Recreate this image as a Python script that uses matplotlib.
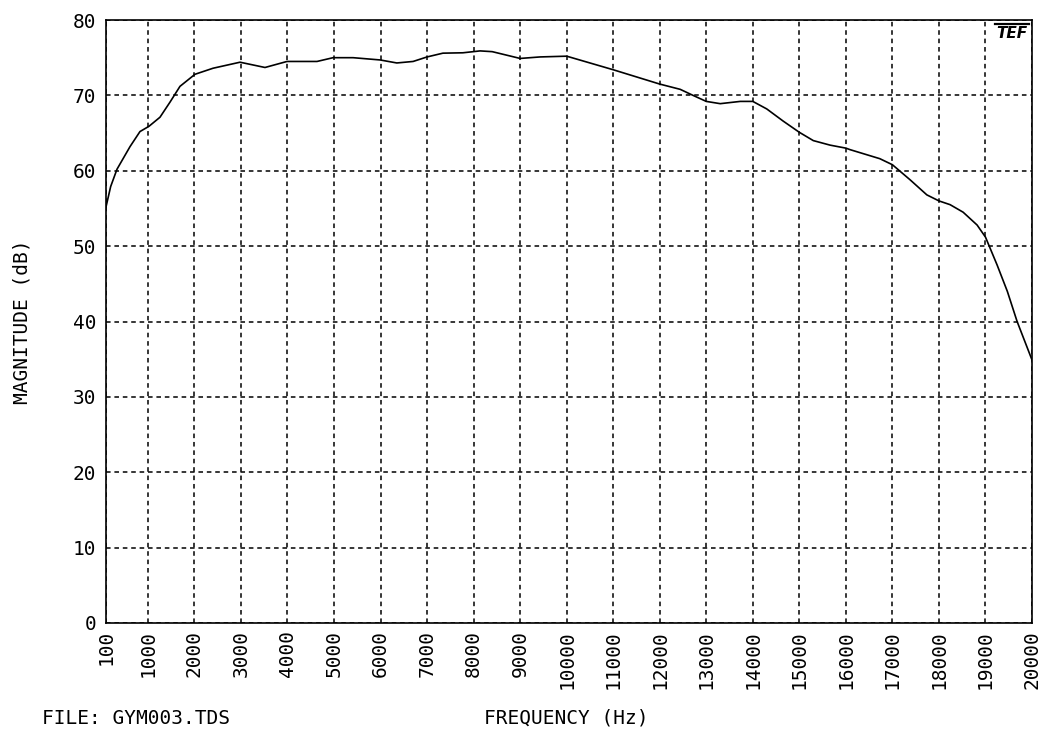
import matplotlib
matplotlib.use("Agg")
import matplotlib.pyplot as plt
import numpy as np

# Data
freq_hz = [100, 200, 336, 616, 830, 1024, 1260, 1475, 1690, 2013, 2400, 2980,
           3517, 3990, 4635, 4980, 5410, 5990, 6350, 6700, 7000, 7340, 7770,
           8140, 8400, 9000, 9430, 10000, 11000, 12000, 12440, 12715, 13000,
           13300, 13730, 14000, 14300, 14650, 15000, 15300, 15660, 16000,
           16090, 16730, 17000, 17380, 17740, 18000, 18240, 18520, 18820,
           19000, 19250, 19470, 19680, 20000]
magnitude_db = [55.2, 57.9, 60.2, 63.2, 65.2, 65.9, 67.1, 69.1, 71.2, 72.8,
                73.6, 74.4, 73.7, 74.5, 74.5, 75.0, 75.0, 74.7, 74.3, 74.5,
                75.1, 75.6, 75.65, 75.9, 75.8, 74.9, 75.1, 75.2, 73.4, 71.5,
                70.8, 70.0, 69.2, 68.9, 69.2, 69.2, 68.2, 66.6, 65.1, 64.0,
                63.4, 63.0, 62.8, 61.6, 60.8, 58.8, 56.8, 56.0, 55.5, 54.5,
                52.8, 51.2, 47.5, 44.0, 40.0, 34.9]
x_ticks = [100, 1000, 2000, 3000, 4000, 5000, 6000, 7000, 8000, 9000, 10000,
           11000, 12000, 13000, 14000, 15000, 16000, 17000, 18000, 19000, 20000]
y_ticks = [0, 10, 20, 30, 40, 50, 60, 70, 80]

W, H = 1044, 744
fig = plt.figure(figsize=(W / 100, H / 100), dpi=100)
fig.patch.set_facecolor("white")
ax = fig.add_axes([106 / W, 1 - 623 / H, (1032 - 106) / W, (623 - 20) / H])

font = "DejaVu Sans Mono"
ax.plot(freq_hz, magnitude_db, color="black", lw=1.2, solid_joinstyle="round")
ax.set_xlim(100, 20000)
ax.set_ylim(0, 80)
ax.set_xticks(x_ticks)
ax.set_xticklabels([str(t) for t in x_ticks], rotation=90, family=font, fontsize=14)
ax.set_yticks(y_ticks)
ax.set_yticklabels([str(t) for t in y_ticks], family=font, fontsize=14)
ax.tick_params(axis="both", length=0, colors="black")
ax.tick_params(axis="x", pad=5)
ax.tick_params(axis="y", pad=7)
ax.grid(True, color="black", lw=1.1, linestyle=(0, (3, 2.5)))
for s in ax.spines.values():
    s.set_linewidth(1.2)
    s.set_color("black")

# TEF logo
ax.text(0.995, 0.99, "TEF", transform=ax.transAxes, ha="right", va="top",
        fontsize=11, color="black", fontweight="bold", style="italic",
        family="DejaVu Sans")
ax.plot([0.960, 0.997], [0.993, 0.993], transform=ax.transAxes, color="black",
        lw=1.6, clip_on=False)

fig.text(22 / W, 1 - 322 / H, "MAGNITUDE (dB)", rotation=90, ha="center",
         va="center", family=font, fontsize=14)
fig.text(566 / W, 1 - 718 / H, "FREQUENCY (Hz)", ha="center", va="center",
         family=font, fontsize=14)
fig.text(42 / W, 1 - 718 / H, "FILE: GYM003.TDS", ha="left", va="center",
         family=font, fontsize=14)

fig.savefig("out.png", dpi=100, facecolor="white")
